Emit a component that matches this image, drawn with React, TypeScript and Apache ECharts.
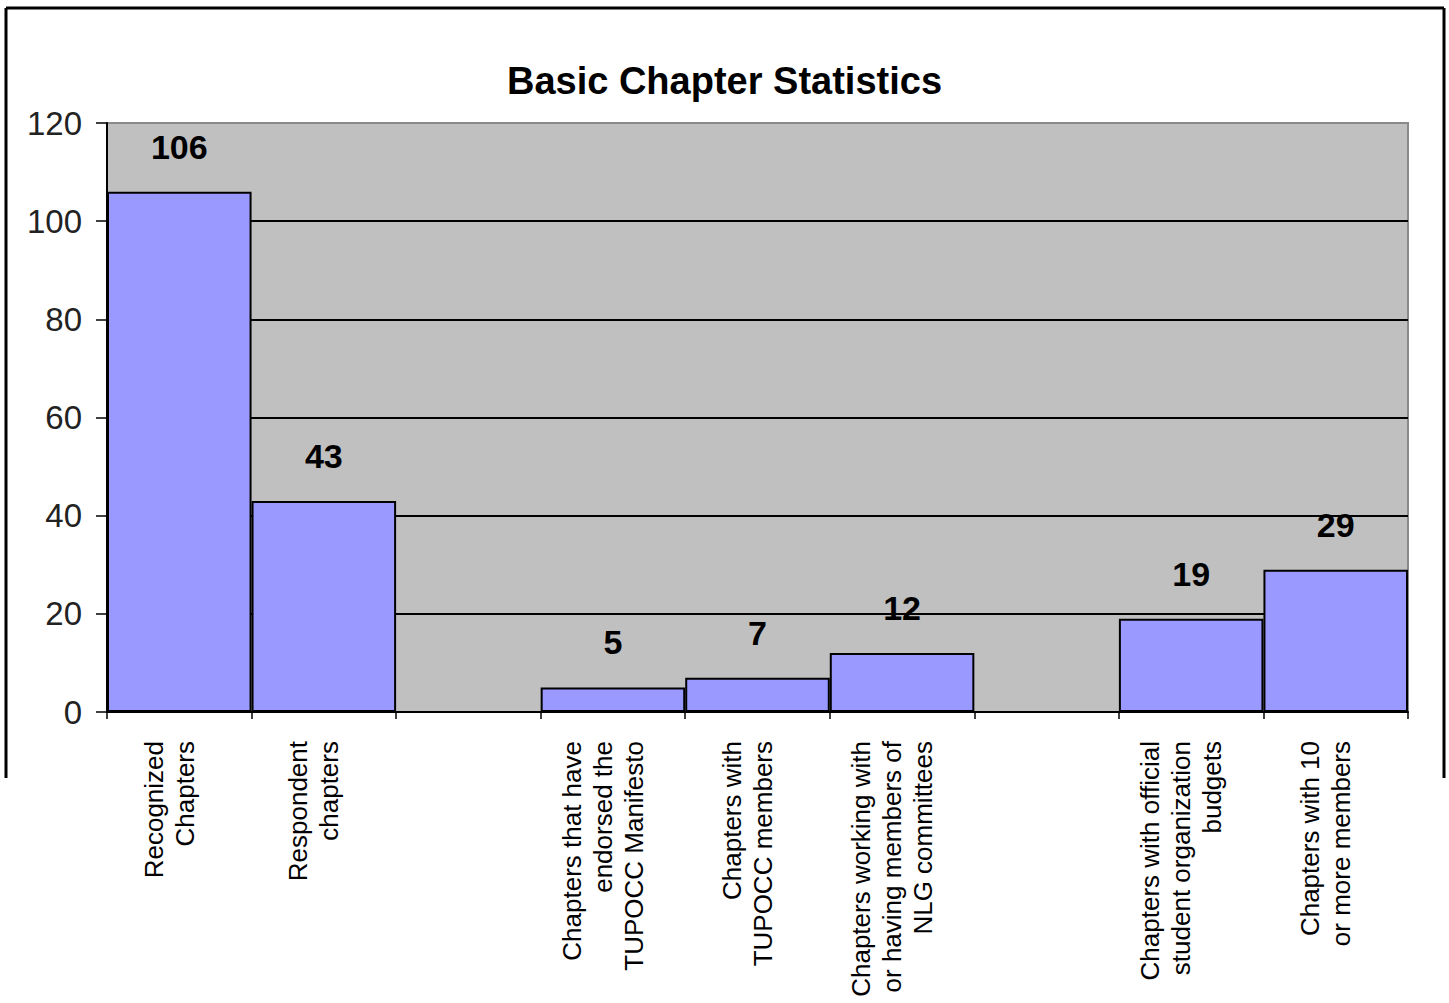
import React, { useEffect, useRef } from "react";
import * as echarts from "echarts";

const categories = [
  "Recognized\nChapters",
  "Respondent\nchapters",
  "",
  "Chapters that have\nendorsed the\nTUPOCC Manifesto",
  "Chapters with\nTUPOCC members",
  "Chapters working with\nor having members of\nNLG committees",
  "",
  "Chapters with official\nstudent organization\nbudgets",
  "Chapters with 10\nor more members",
];
const values: (number | null)[] = [106, 43, null, 5, 7, 12, null, 19, 29];
const titleText = "Basic Chapter Statistics";
const yMin = 0;
const yMax = 120;
const yStep = 20;

export default function App() {
  const ref = useRef<HTMLDivElement>(null);
  useEffect(() => {
    if (!ref.current) return;
    const chart = echarts.init(ref.current, undefined, { renderer: "svg" });
    const sans = "'Liberation Sans', Arial, sans-serif";
    chart.setOption({
      animation: false,
      backgroundColor: "#ffffff",
      title: {
        text: titleText,
        left: "center",
        top: 57,
        textStyle: { fontFamily: sans, fontSize: 38, fontWeight: "bold", color: "#000" },
      },
      grid: {
        left: 107,
        right: 41,
        top: 123,
        bottom: 291,
        show: true,
        backgroundColor: "#c0c0c0",
        borderColor: "#8a8a8a",
        borderWidth: 2,
      },
      xAxis: {
        type: "category",
        data: categories,
        axisLine: { show: true, lineStyle: { color: "#000", width: 2 } },
        axisTick: { show: true, interval: 0, length: 7, lineStyle: { color: "#000", width: 1.5 } },
        axisLabel: {
          interval: 0,
          rotate: 90,
          margin: 29,
          fontFamily: sans,
          fontSize: 26,
          lineHeight: 31,
          color: "#000",
          formatter: (v: string) => (v ? v + "\n{s| }" : ""),
          rich: {
            s: { fontSize: 10, lineHeight: 20 },
          },
        },
        splitLine: { show: false },
      },
      yAxis: {
        type: "value",
        min: yMin,
        max: yMax,
        interval: yStep,
        axisLine: { show: true, lineStyle: { color: "#000", width: 2 } },
        axisTick: { show: true, length: 11, lineStyle: { color: "#000", width: 1.5 } },
        axisLabel: {
          margin: 25,
          fontFamily: sans,
          fontSize: 33,
          color: "#222",
        },
        splitLine: {
          show: true,
          lineStyle: {
            color: ["#000", "#000", "#000", "#000", "#000", "#000", "#8a8a8a"],
            width: 2,
          },
        },
      },
      series: [
        {
          type: "bar",
          data: values,
          barCategoryGap: "0%",
          itemStyle: { color: "#9999ff", borderColor: "#000", borderWidth: 2 },
          label: {
            show: true,
            position: "top",
            distance: 28,
            fontFamily: sans,
            fontSize: 34,
            fontWeight: "bold",
            color: "#000",
          },
        },
      ],
      graphic: [
        { type: "line", shape: { x1: 6, y1: 8, x2: 6, y2: 778 }, style: { stroke: "#000", lineWidth: 3 } },
        { type: "line", shape: { x1: 6, y1: 8, x2: 1444, y2: 8 }, style: { stroke: "#000", lineWidth: 3 } },
        { type: "line", shape: { x1: 1444, y1: 8, x2: 1444, y2: 778 }, style: { stroke: "#000", lineWidth: 3 } },
      ],
    });
    return () => chart.dispose();
  }, []);
  return (
    <div
      ref={ref}
      style={{ position: "fixed", left: 0, top: 0, width: 1449, height: 1003 }}
    />
  );
}
